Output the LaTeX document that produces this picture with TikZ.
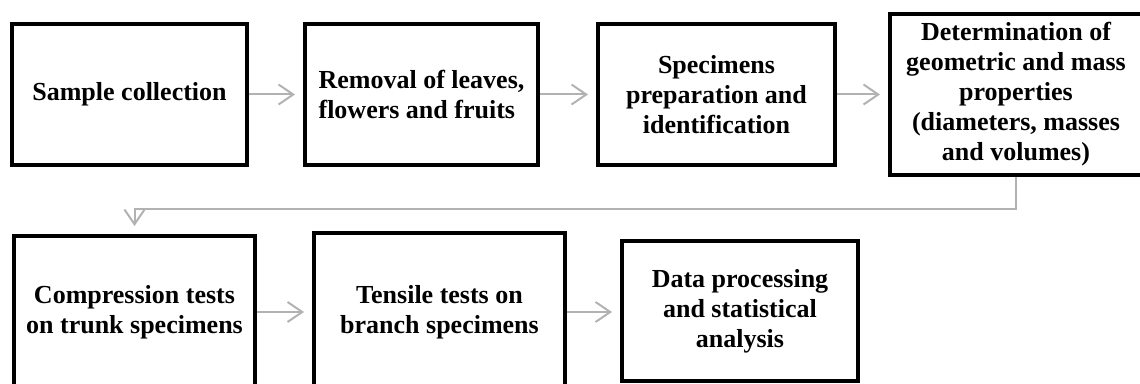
\documentclass[tikz,border=0pt]{standalone}
\usepackage{fontspec}
\setmainfont{Liberation Serif}
\usetikzlibrary{arrows.meta}
\definecolor{flowgray}{RGB}{178,178,178}

\begin{document}
\begin{tikzpicture}[x=0.75pt,y=0.75pt,yscale=-1,xscale=1,
  stage/.style={draw, line width=3pt, inner sep=0pt, align=center, font=\fontsize{19.5}{22.5}\selectfont\bfseries},
  flow/.style={draw=flowgray, line width=1.5pt, -{Straight Barb[length=11pt,width=15pt]}, shorten >=6pt}]
\clip (0,0) rectangle (1140,384);
% first row
\node [stage, minimum width=176.25pt, minimum height=105.75pt] (collect) at (129.5,94.5) {Sample collection};
\node [stage, align=left, minimum width=174.75pt, minimum height=105.75pt] (removal) at (421.5,94.5) {Removal of leaves,\\flowers and fruits};
\node [stage, minimum width=177.75pt, minimum height=105.75pt] (prep) at (716.5,94.5) {Specimens\\preparation and\\identification};
\node [stage, minimum width=189pt, minimum height=120.75pt] (measure) at (1016,94.5) {Determination of\\geometric and mass\\properties\\(diameters, masses\\and volumes)};
% second row
\node [stage, minimum width=180.75pt, minimum height=114pt] (comp) at (134.5,312) {Compression tests\\on trunk specimens};
\node [stage, minimum width=188.25pt, minimum height=118.5pt] (tens) at (439.5,312) {Tensile tests on\\branch specimens};
\node [stage, minimum width=177pt, minimum height=105pt] (data) at (740,311) {Data processing\\and statistical\\analysis};
% connectors
\draw [flow] (collect) -- (removal);
\draw [flow] (removal) -- (prep);
\draw [flow] (prep) -- (measure);
\draw [flow] (measure.south) -- ++(0,32) -| (comp.north);
\draw [flow] (comp.east) -- (comp.east -| tens.west);
\draw [flow] (tens.east) -- (tens.east -| data.west);
\end{tikzpicture}
\end{document}
